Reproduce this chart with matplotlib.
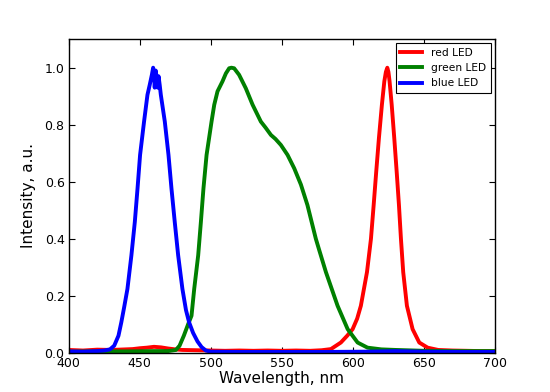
import matplotlib
matplotlib.use("Agg")
import matplotlib.pyplot as plt

# ---- data ----
red_wl = [400, 410, 420, 430, 440, 445, 450, 455, 460, 465, 470, 475, 480, 490, 500, 510,
          520, 530, 540, 550, 560, 570, 578, 584.5, 591.5, 596, 599.8, 603, 605.6, 609.9,
          612.7, 614.6, 616.4, 618.3, 620.4, 622.1, 623.2, 624.2, 625, 625.8, 627.3,
          629.1, 630.8, 632.4, 633.8, 635.4, 638, 642, 646.7, 652.6, 660, 670, 680, 690, 700]
red_val = [0.010, 0.008, 0.011, 0.010, 0.012, 0.013, 0.016, 0.018, 0.021, 0.019, 0.015,
           0.012, 0.010, 0.009, 0.008, 0.007, 0.008, 0.007, 0.008, 0.007, 0.008, 0.007,
           0.009, 0.013, 0.036, 0.060, 0.083, 0.120, 0.165, 0.283, 0.400, 0.518, 0.635,
           0.753, 0.870, 0.952, 0.985, 1.000, 0.985, 0.952, 0.870, 0.753, 0.635, 0.518,
           0.400, 0.283, 0.165, 0.083, 0.036, 0.018, 0.010, 0.008, 0.007, 0.006, 0.006]

green_wl = [400, 420, 440, 460, 470, 475.4, 478, 481, 484, 486.4, 488.3, 491.1, 493,
            494.8, 497, 500.5, 502.4, 504.7, 508.2, 510.6, 512.9, 514.5, 516.4, 519.9,
            524.6, 529.4, 535.2, 538.5, 542.3, 545.5, 549.3, 554, 558.7, 563.4, 568,
            573.9, 576.3, 581, 589.2, 596.3, 603.3, 610.3, 620, 630, 650, 670, 700]
green_val = [0.004, 0.005, 0.005, 0.006, 0.006, 0.010, 0.025, 0.060, 0.100, 0.130,
             0.224, 0.342, 0.459, 0.576, 0.694, 0.811, 0.870, 0.917, 0.952, 0.980,
             0.998, 1.000, 0.998, 0.975, 0.928, 0.870, 0.811, 0.790, 0.764, 0.750,
             0.729, 0.694, 0.647, 0.590, 0.518, 0.400, 0.360, 0.283, 0.165, 0.083,
             0.036, 0.018, 0.012, 0.010, 0.007, 0.006, 0.006]

blue_wl = [400, 410, 420, 425, 429, 432, 435, 437, 439, 441.3, 444.1, 446.5, 448.4,
           450.2, 453, 455.4, 457, 458.5, 459.4, 460, 460.5, 461.2, 462, 462.6, 463.2,
           464, 464.8, 467.6, 470.2, 472.3, 474.6, 477, 480, 482.5, 484.7, 487.5, 490.6,
           493.5, 496.5, 500, 520, 550, 580, 610, 630, 650, 680, 700]
blue_val = [0.005, 0.004, 0.006, 0.008, 0.012, 0.025, 0.060, 0.107, 0.160, 0.224,
            0.342, 0.459, 0.576, 0.694, 0.811, 0.905, 0.940, 0.975, 1.000, 0.980,
            0.930, 0.990, 0.960, 0.930, 0.970, 0.940, 0.905, 0.811, 0.694, 0.576,
            0.459, 0.342, 0.224, 0.150, 0.107, 0.070, 0.040, 0.020, 0.008, 0.004,
            0.003, 0.003, 0.003, 0.004, 0.006, 0.004, 0.003, 0.003]

xticks = [400, 450, 500, 550, 600, 650, 700]
yticks = [0.0, 0.2, 0.4, 0.6, 0.8, 1.0]

fig = plt.figure(figsize=(5.5, 3.92), dpi=100)
fig.patch.set_facecolor("white")
ax = fig.add_axes([0.125, 0.1, 0.775, 0.8])

ax.plot(red_wl, red_val, color=(1, 0, 0), lw=2.8, label="red LED")
ax.plot(green_wl, green_val, color=(0, 0.5, 0), lw=2.8, label="green LED")
ax.plot(blue_wl, blue_val, color=(0, 0, 1), lw=2.8, label="blue LED")

ax.set_xlim(400, 700)
ax.set_ylim(0, 1.1)
ax.set_xticks(xticks)
ax.set_yticks(yticks)
ax.set_xticklabels([str(v) for v in xticks])
ax.set_yticklabels([f"{v:.1f}" for v in yticks])
ax.tick_params(direction="in", length=4, width=0.8, top=True, right=True,
               labelsize=9, pad=3, colors="black")
for s in ax.spines.values():
    s.set_linewidth(1.0)
    s.set_color("black")

ax.set_xlabel("Wavelength, nm", fontsize=11, labelpad=1)
ax.set_ylabel("Intensity, a.u.", fontsize=11, labelpad=6)

leg = ax.legend(loc="upper right", fontsize=7.7, fancybox=False, framealpha=1,
                edgecolor="black", handlelength=2.0, borderaxespad=0.4,
                labelspacing=0.5, handletextpad=0.9, borderpad=0.4)
leg.get_frame().set_linewidth(0.8)

fig.savefig("out.png", dpi=100, facecolor="white")
